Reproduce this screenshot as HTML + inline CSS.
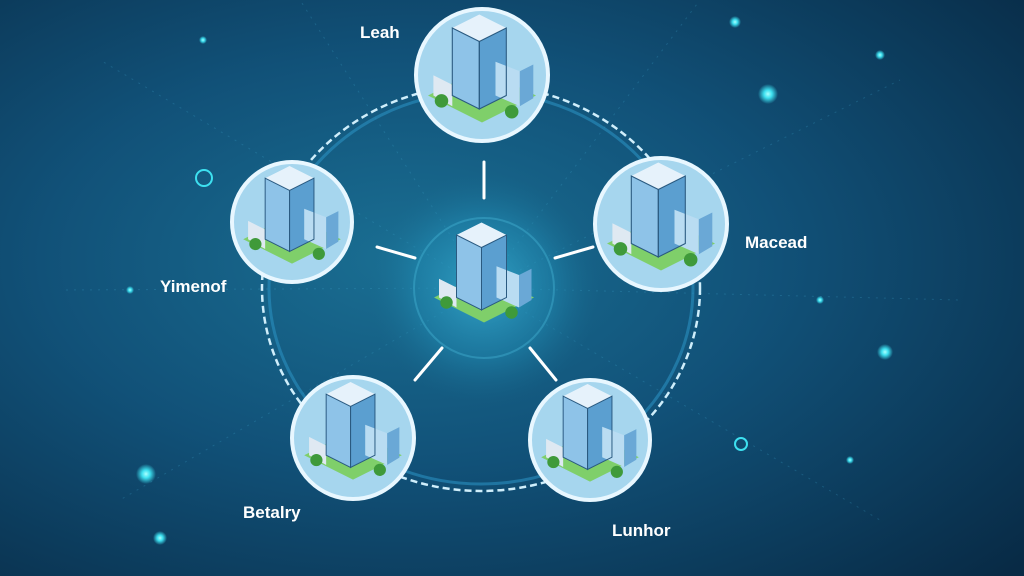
<!DOCTYPE html>
<html><head><meta charset="utf-8"><style>
html,body{margin:0;padding:0;width:1024px;height:576px;overflow:hidden;background:#0b3552}
svg{display:block}
text{font-family:"Liberation Sans",sans-serif;font-weight:bold;fill:#fff;font-size:17px}
</style></head><body>
<svg width="1024" height="576" viewBox="0 0 1024 576">
<defs>
<radialGradient id="bg" cx="0.4" cy="0.45" r="0.8">
<stop offset="0" stop-color="#1a6f93"/><stop offset="0.45" stop-color="#115178"/><stop offset="1" stop-color="#082a45"/>
</radialGradient>
<radialGradient id="glow" cx="0.5" cy="0.5" r="0.5">
<stop offset="0" stop-color="#3ab2d6" stop-opacity="0.8"/><stop offset="0.6" stop-color="#2390b8" stop-opacity="0.45"/><stop offset="1" stop-color="#1a6f93" stop-opacity="0"/>
</radialGradient>
<radialGradient id="dot"><stop offset="0" stop-color="#aff"/><stop offset="0.4" stop-color="#3de0f0"/><stop offset="1" stop-color="#3de0f0" stop-opacity="0"/></radialGradient>
<g id="bld">
<polygon points="-40,10 0,30 40,10 0,-10" fill="#7fcf6a"/>
<polygon points="-22,-40 -2,-30 -2,20 -22,10" fill="#8ec3e8"/>
<polygon points="-2,-30 18,-40 18,10 -2,20" fill="#5b9fd0"/>
<polygon points="-22,-40 -2,-50 18,-40 -2,-30" fill="#e6f2fb"/>
<polygon points="10,-15 28,-8 28,18 10,10" fill="#b9dcf2"/>
<polygon points="28,-8 38,-13 38,12 28,18" fill="#6aa8d6"/>
<polygon points="-36,-5 -22,2 -22,18 -36,10" fill="#dfe9f2"/>
<circle cx="-30" cy="14" r="5" fill="#3f9a3a"/><circle cx="22" cy="22" r="5" fill="#3f9a3a"/>
<g stroke="#2a5a80" stroke-width="0.8" fill="none"><polygon points="-22,-40 -2,-30 -2,20 -22,10"/><polygon points="-2,-30 18,-40 18,10 -2,20"/></g>
</g>
</defs>
<rect width="1024" height="576" fill="url(#bg)"/>
<g stroke="#3fa9cf" stroke-opacity="0.25" stroke-width="1" stroke-dasharray="2 6">
<line x1="484" y1="288" x2="100" y2="60"/><line x1="484" y1="288" x2="900" y2="80"/><line x1="484" y1="288" x2="120" y2="500"/><line x1="484" y1="288" x2="880" y2="520"/><line x1="484" y1="288" x2="60" y2="290"/><line x1="484" y1="288" x2="960" y2="300"/><line x1="484" y1="288" x2="300" y2="0"/><line x1="484" y1="288" x2="700" y2="0"/>
</g>
<circle cx="484" cy="288" r="115" fill="url(#glow)"/>
<circle cx="484" cy="288" r="70" fill="none" stroke="#4cc0e0" stroke-opacity="0.35" stroke-width="2"/>
<ellipse cx="481" cy="288" rx="219" ry="203" fill="none" stroke="#cfeefb" stroke-width="2.5" stroke-dasharray="7 4"/>
<ellipse cx="481" cy="288" rx="212" ry="196" fill="none" stroke="#2a8fc0" stroke-width="3" stroke-opacity="0.6"/>
<g stroke="#fff" stroke-width="3" stroke-linecap="round">
<line x1="484" y1="162" x2="484" y2="198"/><line x1="377" y1="247" x2="415" y2="258"/><line x1="555" y1="258" x2="593" y2="247"/><line x1="442" y1="348" x2="415" y2="380"/><line x1="530" y1="348" x2="556" y2="380"/>
</g>
<use href="#bld" transform="translate(484,285) scale(1.25)"/>
<g>
<circle cx="482" cy="75" r="66" fill="#a6d6ee" stroke="#e8f7ff" stroke-width="4"/><use href="#bld" transform="translate(482,82) scale(1.35)"/>
<circle cx="292" cy="222" r="60" fill="#a6d6ee" stroke="#e8f7ff" stroke-width="4"/><use href="#bld" transform="translate(292,227) scale(1.22)"/>
<circle cx="661" cy="224" r="66" fill="#a6d6ee" stroke="#e8f7ff" stroke-width="4"/><use href="#bld" transform="translate(661,230) scale(1.35)"/>
<circle cx="353" cy="438" r="61" fill="#a6d6ee" stroke="#e8f7ff" stroke-width="4"/><use href="#bld" transform="translate(353,443) scale(1.22)"/>
<circle cx="590" cy="440" r="60" fill="#a6d6ee" stroke="#e8f7ff" stroke-width="4"/><use href="#bld" transform="translate(590,445) scale(1.22)"/>
</g>
<text x="360" y="38">Leah</text>
<text x="745" y="248">Macead</text>
<text x="160" y="292">Yimenof</text>
<text x="243" y="518">Betalry</text>
<text x="612" y="536">Lunhor</text>
<g fill="url(#dot)">
<circle cx="768" cy="94" r="10"/><circle cx="885" cy="352" r="8"/><circle cx="146" cy="474" r="10"/><circle cx="160" cy="538" r="7"/><circle cx="735" cy="22" r="6"/><circle cx="880" cy="55" r="5"/><circle cx="203" cy="40" r="4"/><circle cx="820" cy="300" r="4"/><circle cx="130" cy="290" r="4"/><circle cx="850" cy="460" r="4"/>
</g>
<circle cx="204" cy="178" r="8" fill="none" stroke="#3de0f0" stroke-width="2"/>
<circle cx="741" cy="444" r="6" fill="none" stroke="#3de0f0" stroke-width="2"/>
</svg>
</body></html>
